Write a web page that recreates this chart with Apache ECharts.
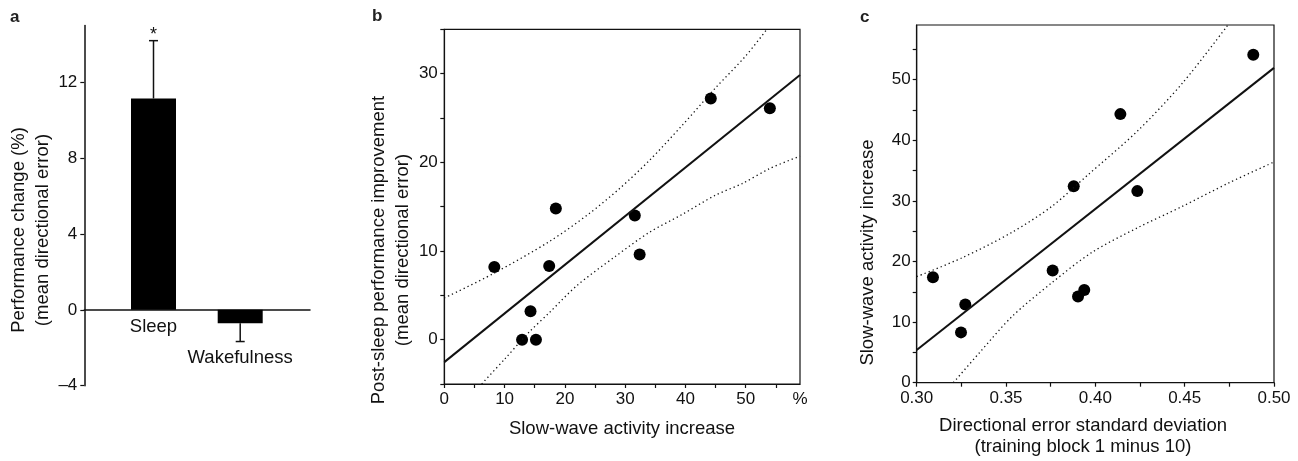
<!DOCTYPE html>
<html><head><meta charset="utf-8">
<script src="https://cdn.jsdelivr.net/npm/echarts@6/dist/echarts.min.js"></script>
<style>html,body{margin:0;padding:0;background:#fff}#chart{width:1298px;height:461px}</style>
</head><body><div id="chart"></div>
<script>
const FONT = '"Liberation Sans", Arial, Helvetica, sans-serif';
const INK = '#111';

// ---- Panel a ----
const aCategories = ['Sleep', 'Wakefulness'];
const aMeans = [11.15, -0.72];
const aErrors = [3.05, 0.96];
const aYTicks = [-4, 0, 4, 8, 12];

// ---- Panel b ----
const bSWA = [8.3, 12.9, 15.2, 14.3, 17.4, 18.5, 31.6, 32.4, 44.2, 54.0];
const bImprovement = [8.2, 0.0, 0.0, 3.2, 8.3, 14.8, 14.0, 9.6, 27.2, 26.1];
const bFit = [[0, -2.53], [59, 29.85]];
const bUpper = [[0, 4.7], [8, 7.4], [17.5, 11.1], [24, 14.2], [29, 17.0], [34, 20.2], [39.5, 24.2], [45, 28.4], [50, 32.0], [53.5, 35]];
const bLower = [[6.2, -5], [10, -2.2], [14, 0.8], [17.5, 3.1], [22, 6.1], [28.4, 9.4], [34, 12.1], [39.4, 14.1], [45, 16.3], [49.4, 17.6], [54, 19.3], [59, 20.7]];
const bYTicks = [-5, 0, 5, 10, 15, 20, 25, 30, 35];
const bYLabels = [0, 10, 20, 30];
const bXTicks = [0, 5, 10, 15, 20, 25, 30, 35, 40, 45, 50, 55];
const bXLabels = [0, 10, 20, 30, 40, 50, 59];

// ---- Panel c ----
const cSD = [0.3091, 0.3272, 0.3248, 0.3761, 0.3903, 0.3938, 0.3879, 0.4140, 0.4235, 0.4884];
const cSWA = [17.4, 12.9, 8.3, 18.5, 14.2, 15.3, 32.4, 44.3, 31.6, 54.1];
const cFit = [[0.30, 5.4], [0.50, 51.93]];
const cUpper = [[0.30, 17.5], [0.3254, 20.6], [0.3533, 24.8], [0.3757, 29.1], [0.3959, 34.3], [0.4239, 41.6], [0.449, 49.5], [0.4742, 59]];
const cLower = [[0.3205, 0], [0.335, 4.9], [0.3533, 10.9], [0.3757, 16.5], [0.3981, 21.5], [0.4239, 25.6], [0.4481, 29.0], [0.475, 33.0], [0.50, 36.4]];
const cYTicks = [0, 5, 10, 15, 20, 25, 30, 35, 40, 45, 50, 55];
const cYLabels = [0, 10, 20, 30, 40, 50];
const cXTicks = [0.30, 0.325, 0.35, 0.375, 0.40, 0.425, 0.45, 0.475, 0.50];
const cXLabels = [0.30, 0.35, 0.40, 0.45, 0.50];

const chart = echarts.init(document.getElementById('chart'), null, {renderer: 'canvas'});

const lab = (extra) => Object.assign({color: INK, fontSize: 17, fontFamily: FONT, hideOverlap: false}, extra);
const line = (w) => ({show: true, onZero: false, lineStyle: {color: INK, width: w || 1.2}});
const tick = (vals) => ({show: true, inside: false, length: 4, customValues: vals, lineStyle: {color: INK, width: 1.2}});
const zip = (xs, ys) => xs.map((x, i) => [x, ys[i]]);
const dotted = {color: INK, width: 1.3, type: [1.3, 3]};
const dot = {color: '#000', opacity: 1, borderWidth: 0};

const option = {
  animation: false,
  backgroundColor: '#fff',
  textStyle: {fontFamily: FONT},
  grid: [
    {left: 84.3, top: 25.5, width: 225.7, height: 360.2},
    // bar grid: same scale as grid 0, bottom edge at value 0
    {left: 110.15, top: 25.5, width: 173.4, height: 284.2},
    {left: 444.3, top: 29.3, width: 355.7, height: 354.7, show: true, borderColor: INK, borderWidth: 1.2, backgroundColor: 'transparent'},
    {left: 916.7, top: 25, width: 357.3, height: 357.7, show: true, borderColor: INK, borderWidth: 1.2, backgroundColor: 'transparent'}
  ],
  xAxis: [
    {gridIndex: 0, type: 'value', min: 0, max: 1, axisLine: {show: true, onZero: true, lineStyle: {color: INK, width: 1.5}}, axisTick: {show: false}, axisLabel: {show: false}, splitLine: {show: false}},
    {gridIndex: 1, type: 'category', data: aCategories, axisLine: {show: false, onZero: false}, axisTick: {show: false}, splitLine: {show: false},
      axisLabel: {interval: 0, margin: 2, color: INK, fontSize: 18.5, fontFamily: FONT, lineHeight: 31,
        formatter: (v, i) => (i === 0 ? v : '\n' + v)}},
    {gridIndex: 2, type: 'value', min: 0, max: 59, axisLine: line(), axisTick: tick(bXTicks), splitLine: {show: false},
      axisLabel: lab({margin: 7, customValues: bXLabels, formatter: v => (v === 59 ? '%' : String(v))})},
    {gridIndex: 3, type: 'value', min: 0.30, max: 0.50, axisLine: line(), axisTick: tick(cXTicks), splitLine: {show: false},
      axisLabel: lab({margin: 7, customValues: cXLabels, formatter: v => v.toFixed(2)})}
  ],
  yAxis: [
    {gridIndex: 0, type: 'value', min: -4, max: 15, axisLine: line(1.5), axisTick: tick(aYTicks), splitLine: {show: false},
      axisLabel: lab({margin: 7, customValues: aYTicks, formatter: v => (v < 0 ? '\u2013' + (-v) : String(v))})},
    {gridIndex: 1, type: 'value', min: 0, max: 15, axisLine: {show: false}, axisTick: {show: false}, axisLabel: {show: false}, splitLine: {show: false}},
    {gridIndex: 2, type: 'value', min: -5, max: 35, axisLine: line(), axisTick: tick(bYTicks), splitLine: {show: false},
      axisLabel: lab({margin: 6.5, customValues: bYLabels})},
    {gridIndex: 3, type: 'value', min: 0, max: 59, axisLine: line(), axisTick: tick(cYTicks), splitLine: {show: false},
      axisLabel: lab({margin: 6, customValues: cYLabels})}
  ],
  series: [
    {type: 'bar', xAxisIndex: 1, yAxisIndex: 1, data: aMeans, barWidth: 45, clip: false, itemStyle: {color: '#000', opacity: 1}},
    {type: 'custom', xAxisIndex: 1, yAxisIndex: 1, clip: false, data: aCategories.map((c, i) => [i, aMeans[i], aErrors[i]]),
      renderItem: function (params, api) {
        const idx = api.value(0), m = api.value(1), e = api.value(2);
        const end = m >= 0 ? m + e : m - e;
        const p0 = api.coord([idx, m]);
        const p1 = api.coord([idx, end]);
        const hw = 4.5;
        const st = {stroke: INK, lineWidth: 1.5};
        return {type: 'group', children: [
          {type: 'line', shape: {x1: p0[0], y1: p0[1], x2: p1[0], y2: p1[1]}, style: st},
          {type: 'line', shape: {x1: p1[0] - hw, y1: p1[1], x2: p1[0] + hw, y2: p1[1]}, style: st}
        ]};
      }},
    {type: 'line', xAxisIndex: 2, yAxisIndex: 2, data: bUpper, smooth: 0.3, symbol: 'none', lineStyle: dotted},
    {type: 'line', xAxisIndex: 2, yAxisIndex: 2, data: bLower, smooth: 0.3, symbol: 'none', lineStyle: dotted},
    {type: 'line', xAxisIndex: 2, yAxisIndex: 2, data: bFit, symbol: 'none', lineStyle: {color: INK, width: 2}},
    {type: 'scatter', xAxisIndex: 2, yAxisIndex: 2, data: zip(bSWA, bImprovement), symbolSize: 12, itemStyle: dot},
    {type: 'line', xAxisIndex: 3, yAxisIndex: 3, data: cUpper, smooth: 0.3, symbol: 'none', lineStyle: dotted},
    {type: 'line', xAxisIndex: 3, yAxisIndex: 3, data: cLower, smooth: 0.3, symbol: 'none', lineStyle: dotted},
    {type: 'line', xAxisIndex: 3, yAxisIndex: 3, data: cFit, symbol: 'none', lineStyle: {color: INK, width: 2}},
    {type: 'scatter', xAxisIndex: 3, yAxisIndex: 3, data: zip(cSD, cSWA), symbolSize: 12, itemStyle: dot}
  ],
  graphic: [
    {type: 'text', x: 10, y: 17, style: {text: 'a', font: 'bold 17px ' + FONT, fill: '#222', align: 'left', verticalAlign: 'middle'}},
    {type: 'text', x: 372, y: 16, style: {text: 'b', font: 'bold 17px ' + FONT, fill: '#222', align: 'left', verticalAlign: 'middle'}},
    {type: 'text', x: 860, y: 17, style: {text: 'c', font: 'bold 17px ' + FONT, fill: '#222', align: 'left', verticalAlign: 'middle'}},
    {type: 'text', x: 153.5, y: 35, style: {text: '*', font: '18px ' + FONT, fill: INK, align: 'center', verticalAlign: 'middle'}},
    {type: 'text', x: 30.75, y: 230, rotation: Math.PI / 2, style: {text: 'Performance change (%)\n(mean directional error)', font: '18.5px ' + FONT, lineHeight: 24.5, fill: INK, align: 'center', verticalAlign: 'middle'}},
    {type: 'text', x: 391, y: 250, rotation: Math.PI / 2, style: {text: 'Post-sleep performance improvement\n(mean directional error)', font: '18.5px ' + FONT, lineHeight: 24.5, fill: INK, align: 'center', verticalAlign: 'middle'}},
    {type: 'text', x: 868, y: 252.5, rotation: Math.PI / 2, style: {text: 'Slow-wave activity increase', font: '18.5px ' + FONT, fill: INK, align: 'center', verticalAlign: 'middle'}},
    {type: 'text', x: 622, y: 429, style: {text: 'Slow-wave activity increase', font: '18.5px ' + FONT, fill: INK, align: 'center', verticalAlign: 'middle'}},
    {type: 'text', x: 1083, y: 436, style: {text: 'Directional error standard deviation\n(training block 1 minus 10)', font: '18.5px ' + FONT, lineHeight: 21, fill: INK, align: 'center', verticalAlign: 'middle'}}
  ]
};
chart.setOption(option);
</script>
</body></html>
